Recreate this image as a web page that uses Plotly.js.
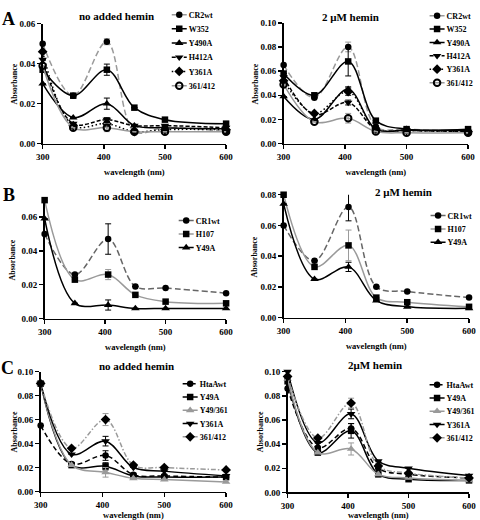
<!DOCTYPE html>
<html>
<head>
<meta charset="utf-8">
<script src="https://cdn.plot.ly/plotly-3.0.1.min.js"></script>
<style>html,body{margin:0;padding:0;background:#fff}#chart{width:480px;height:520px}</style>
</head>
<body>
<div id="chart"></div>
<script>
// wavelengths (nm) at which absorbance was measured
const wavelength = [300, 350, 405, 450, 500, 600];

// ---- Panel A: no added hemin ----
const namesA = ['CR2wt', 'W352', 'Y490A', 'H412A', 'Y361A', '361/412'];
const A1_CR2wt  = [0.050, 0.024, 0.051, 0.006, 0.008, 0.006];
const A1_W352   = [0.037, 0.024, 0.037, 0.018, 0.012, 0.010];
const A1_Y490A  = [0.030, 0.013, 0.020, 0.009, 0.008, 0.0075];
const A1_H412A  = [0.042, 0.010, 0.012, 0.009, 0.009, 0.008];
const A1_Y361A  = [0.046, 0.009, 0.010, 0.006, 0.007, 0.007];
const A1_361412 = [0.039, 0.008, 0.008, 0.006, 0.006, 0.006];
const A1_err405 = [0.0015, 0.0028, 0.0028, 0.001, 0.001, 0.002];

// ---- Panel A: 2 uM hemin ----
const A2_CR2wt  = [0.065, 0.038, 0.080, 0.014, 0.012, 0.010];
const A2_W352   = [0.058, 0.040, 0.068, 0.019, 0.012, 0.012];
const A2_Y490A  = [0.039, 0.020, 0.045, 0.012, 0.011, 0.011];
const A2_H412A  = [0.055, 0.024, 0.034, 0.012, 0.011, 0.010];
const A2_Y361A  = [0.052, 0.025, 0.043, 0.012, 0.011, 0.010];
const A2_361412 = [0.049, 0.018, 0.021, 0.010, 0.009, 0.009];
const A2_err405 = [0.004, 0.012, 0.002, 0.002, 0.003, 0.004];

// ---- Panel B ----
const namesB = ['CR1wt', 'H107', 'Y49A'];
const B1_CR1wt = [0.050, 0.026, 0.047, 0.019, 0.018, 0.015];
const B1_H107  = [0.070, 0.023, 0.026, 0.014, 0.010, 0.009];
const B1_Y49A  = [0.059, 0.009, 0.008, 0.006, 0.006, 0.006];
const B1_err405 = [0.009, 0.003, 0.003];
const B2_CR1wt = [0.060, 0.037, 0.072, 0.020, 0.017, 0.013];
const B2_H107  = [0.080, 0.033, 0.047, 0.013, 0.010, 0.007];
const B2_Y49A  = [0.074, 0.025, 0.033, 0.011, 0.007, 0.006];
const B2_err405 = [0.009, 0.010, 0.003];

// ---- Panel C ----
const namesC = ['HtaAwt', 'Y49A', 'Y49/361', 'Y361A', '361/412'];
const C1_HtaAwt = [0.055, 0.023, 0.030, 0.014, 0.013, 0.012];
const C1_Y49A   = [0.090, 0.022, 0.021, 0.013, 0.012, 0.012];
const C1_Y49361 = [0.090, 0.022, 0.016, 0.011, 0.010, 0.008];
const C1_Y361A  = [0.090, 0.031, 0.042, 0.020, 0.017, 0.013];
const C1_361412 = [0.090, 0.036, 0.060, 0.022, 0.020, 0.018];
const C1_err405 = [0.004, 0.003, 0.004, 0.004, 0.005];
const C2_HtaAwt = [0.086, 0.037, 0.053, 0.020, 0.015, 0.012];
const C2_Y49A   = [0.092, 0.033, 0.051, 0.015, 0.011, 0.010];
const C2_Y49361 = [0.094, 0.033, 0.036, 0.015, 0.012, 0.010];
const C2_Y361A  = [0.100, 0.041, 0.065, 0.026, 0.020, 0.014];
const C2_361412 = [0.096, 0.045, 0.074, 0.022, 0.016, 0.012];
const C2_err405 = [0.004, 0.006, 0.005, 0.004, 0.004];

// tick labels
const xTickVals = [300, 400, 500, 600];

const FONT = 'Liberation Serif, Times New Roman, serif';
const GRAY = '#9a9a9a';

const styleA = [
  {color: GRAY, dash: '6px,3px', symbol: 'circle', mcolor: '#000'},
  {color: '#000', dash: 'solid', symbol: 'square', mcolor: '#000'},
  {color: '#000', dash: 'solid', symbol: 'triangle-up', mcolor: '#000', size: 7.5},
  {color: '#000', dash: '4px,2px', symbol: 'triangle-down', mcolor: '#000', size: 7.5},
  {color: '#000', dash: '1.5px,2.5px', symbol: 'diamond', mcolor: '#000', size: 7.5},
  {color: GRAY, dash: 'solid', symbol: 'circle-open', mcolor: '#000', mlw: 2}
];
const styleB = [
  {color: '#666', dash: '6px,3px', symbol: 'circle', mcolor: '#000'},
  {color: GRAY, dash: 'solid', symbol: 'square', mcolor: '#000'},
  {color: '#000', dash: 'solid', symbol: 'triangle-up', mcolor: '#000', size: 7.5}
];
const styleC = [
  {color: '#000', dash: '5px,3px', symbol: 'circle', mcolor: '#000'},
  {color: '#000', dash: 'solid', symbol: 'square', mcolor: '#000'},
  {color: GRAY, dash: 'solid', symbol: 'triangle-up', mcolor: GRAY, size: 7.5},
  {color: '#000', dash: 'solid', symbol: 'triangle-down', mcolor: '#000', size: 7.5},
  {color: GRAY, dash: '5px,2px,1.5px,2px', symbol: 'diamond', mcolor: '#000', size: 7.5}
];

const traces = [];
function addPanel(series, names, errs, styles, n, legendId) {
  series.forEach(function (ys, i) {
    const s = styles[i];
    const errArr = wavelength.map(function (w) { return w === 405 ? errs[i] : 0; });
    traces.push({
      type: 'scatter', mode: 'lines+markers', name: names[i],
      x: wavelength, y: ys,
      xaxis: 'x' + (n === 1 ? '' : n), yaxis: 'y' + (n === 1 ? '' : n),
      legend: legendId, cliponaxis: false,
      line: {shape: 'spline', smoothing: 1, color: s.color, width: 1.5, dash: s.dash},
      marker: {symbol: s.symbol, size: s.size || 6.5, color: s.mcolor,
               line: {width: s.mlw || 0, color: s.mcolor}},
      error_y: {type: 'data', array: errArr, visible: true, color: s.color === GRAY ? GRAY : '#000',
                thickness: 1, width: 3}
    });
  });
}
addPanel([A1_CR2wt, A1_W352, A1_Y490A, A1_H412A, A1_Y361A, A1_361412], namesA, A1_err405, styleA, 1, 'legend');
addPanel([A2_CR2wt, A2_W352, A2_Y490A, A2_H412A, A2_Y361A, A2_361412], namesA, A2_err405, styleA, 2, 'legend2');
addPanel([B1_CR1wt, B1_H107, B1_Y49A], namesB, B1_err405, styleB, 3, 'legend3');
addPanel([B2_CR1wt, B2_H107, B2_Y49A], namesB, B2_err405, styleB, 4, 'legend4');
addPanel([C1_HtaAwt, C1_Y49A, C1_Y49361, C1_Y361A, C1_361412], namesC, C1_err405, styleC, 5, 'legend5');
addPanel([C2_HtaAwt, C2_Y49A, C2_Y49361, C2_Y361A, C2_361412], namesC, C2_err405, styleC, 6, 'legend6');

const W = 480, H = 520;
function px(x) { return x / W; }
function py(y) { return 1 - y / H; }

function xAx(l, r, anchor) {
  return {
    domain: [px(l), px(r)], anchor: anchor, range: [300, 600], tickvals: xTickVals,
    showline: true, linecolor: '#000', linewidth: 1.5, ticks: 'outside', ticklen: 4,
    tickwidth: 1.5, tickcolor: '#000', showgrid: false, zeroline: false, fixedrange: true,
    tickfont: {family: FONT, size: 9, color: '#000', weight: 'bold'},
    title: {text: 'wavelength (nm)', standoff: 8, font: {family: FONT, size: 8.5, color: '#000', weight: 'bold'}}
  };
}
function yAx(top, bottom, max, anchor) {
  return {
    domain: [py(bottom), py(top)], anchor: anchor, range: [0, max], dtick: 0.02, tick0: 0,
    tickformat: '.2f',
    showline: true, linecolor: '#000', linewidth: 1.5, ticks: 'outside', ticklen: 4,
    tickwidth: 1.5, tickcolor: '#000', showgrid: false, zeroline: false, fixedrange: true,
    tickfont: {family: FONT, size: 9, color: '#000', weight: 'bold'}
  };
}
function leg(x, yTop) {
  return {x: px(x), y: py(yTop), xanchor: 'left', yanchor: 'top', bgcolor: 'rgba(0,0,0,0)',
          borderwidth: 0, itemwidth: 30, tracegroupgap: 0,
          font: {family: FONT, size: 8, color: '#000', weight: 'bold'}};
}
function ann(text, x, y, size, angle) {
  return {text: text, x: px(x), y: py(y), xref: 'paper', yref: 'paper', showarrow: false,
          xanchor: 'center', yanchor: 'middle', textangle: angle || 0,
          font: {family: FONT, size: size, color: '#000', weight: 'bold'}};
}

const layout = {
  width: W, height: H, margin: {l: 0, r: 0, t: 0, b: 0},
  paper_bgcolor: '#fff', plot_bgcolor: 'rgba(0,0,0,0)', showlegend: true,
  xaxis: xAx(43, 228, 'y'),  yaxis: yAx(15, 137, 0.06, 'x'),
  xaxis2: xAx(286, 472, 'y2'), yaxis2: yAx(14, 137, 0.10, 'x2'),
  xaxis3: xAx(45, 228, 'y3'), yaxis3: yAx(194.5, 315, 0.07, 'x3'),
  xaxis4: xAx(286, 473, 'y4'), yaxis4: yAx(189, 314, 0.08, 'x4'),
  xaxis5: xAx(41, 228, 'y5'), yaxis5: yAx(369, 491, 0.10, 'x5'),
  xaxis6: xAx(290, 473, 'y6'), yaxis6: yAx(369, 492, 0.10, 'x6'),
  legend: leg(150, -9), legend2: leg(410, -8), legend3: leg(157, 200.5),
  legend4: leg(411, 195.5), legend5: leg(161, 366.5), legend6: leg(410, 367.5),
  annotations: [
    ann('A', 9, 10, 18), ann('B', 9, 189, 18), ann('C', 8, 365, 18),
    ann('no added hemin', 117, 7, 11), ann('2 μM hemin', 353, 8, 11),
    ann('no added hemin', 137, 190, 11), ann('2 μM hemin', 407, 186, 11),
    ann('no added hemin', 138, 363, 11), ann('2μM hemin', 378, 362, 11),
    ann('Absorbance', 15, 76, 8, -90), ann('Absorbance', 258, 76, 8, -90),
    ann('Absorbance', 13, 255, 8, -90), ann('Absorbance', 257, 252, 8, -90),
    ann('Absorbance', 15, 430, 8, -90), ann('Absorbance', 263, 430, 8, -90)
  ]
};

// vertical distance between legend entries, per legend
const LEGEND_STEPS = {legend: 14.2, legend2: 13.4, legend3: 13.5, legend4: 13.3, legend5: 13.3, legend6: 13.3};
Plotly.newPlot('chart', traces, layout, {staticPlot: true, displayModeBar: false}).then(function (gd) {
  const groups = gd.querySelectorAll('g.infolayer > g');
  groups.forEach(function (g) {
    const cls = g.getAttribute('class') || '';
    if (!/^legend\d*$/.test(cls)) return;
    const step = LEGEND_STEPS[cls] || 13.5;
    const items = g.querySelectorAll('g.traces');
    let y0 = null;
    items.forEach(function (it, i) {
      const t = it.getAttribute('transform') || '';
      const m = /translate\(\s*([-\d.e]+)[ ,]+([-\d.e]+)\s*\)/.exec(t);
      if (!m) return;
      const x = +m[1], y = +m[2];
      if (y0 === null) y0 = y;
      it.setAttribute('transform', 'translate(' + x + ',' + (y0 + i * step) + ')');
      // shorter legend sample, closer to its label
      it.querySelectorAll('.legendlines path').forEach(function (p) { p.setAttribute('d', 'M23,0h15'); });
      it.querySelectorAll('.legendpoints path').forEach(function (p) { p.setAttribute('transform', 'translate(30.5,0)'); });
    });
  });
});
</script>
</body>
</html>
